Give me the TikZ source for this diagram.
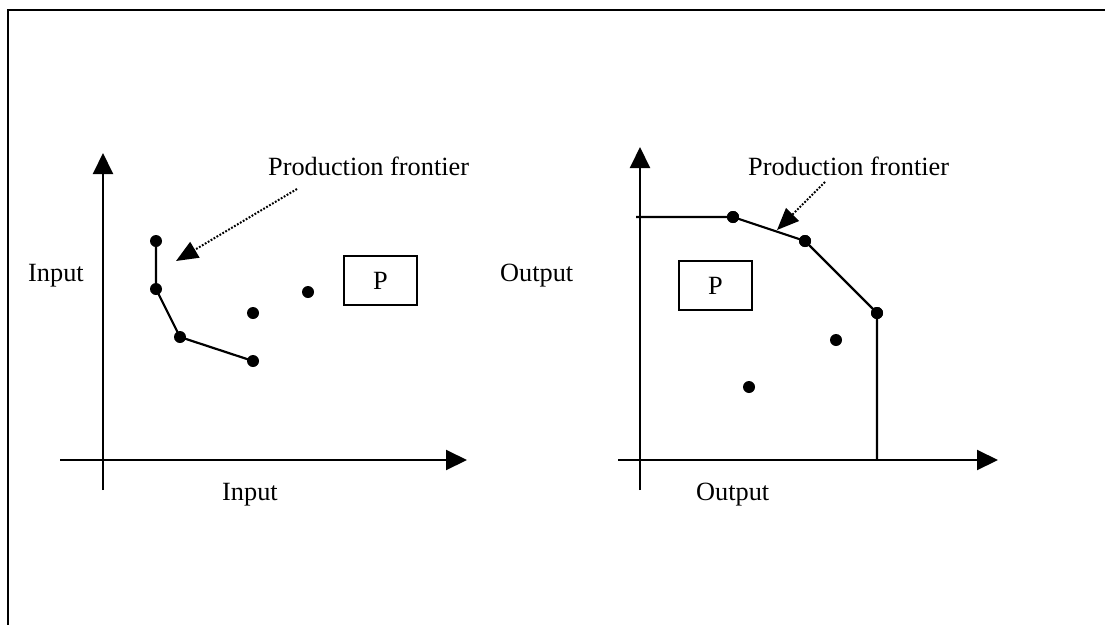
\documentclass[tikz,border=0pt]{standalone}
\usepackage{fontspec}
\setmainfont{Liberation Serif}
\usetikzlibrary{arrows.meta}
\begin{document}
\begin{tikzpicture}[x=1pt,y=-1pt,
  axis/.style={line width=2pt,-{Triangle[length=21pt,width=20pt]}},
  front/.style={line width=2.2pt},
  dot/.style={circle,fill=black,inner sep=0pt,minimum size=12pt},
  lbl/.style={inner sep=0pt,anchor=base west,font=\fontsize{26.3}{30}\selectfont},
  pointer/.style={line width=2pt,dash pattern=on 1.8pt off 1.6pt,-{Triangle[length=22pt,width=18pt]}},
  pbox/.style={draw,line width=2pt,minimum width=73pt,minimum height=49pt,inner sep=0pt}
]
\useasboundingbox (0,0) rectangle (1105,624);
% frame
\draw[line width=2pt] (7.5,640) -- (7.5,10) -- (1115,10);

% ---------- left chart ----------
\coordinate (ly0) at (103,490);
\coordinate (ly1) at (103,153);
\coordinate (lx0) at (60,460);
\coordinate (lx1) at (467,460);
\draw[axis] (ly0) -- (ly1);
\draw[axis] (lx0) -- (lx1);

\node[dot] (a1) at (156,241) {};
\node[dot] (a2) at (156,289) {};
\node[dot] (a3) at (180,337) {};
\node[dot] (a4) at (253,361) {};
\node[dot] (a5) at (253,313) {};
\node[dot] (a6) at (308,292) {};
\draw[front] (a1.center) -- (a2.center) -- (a3.center) -- (a4.center);

\node[lbl] (lpf) at (268,175) {Production frontier};
\coordinate (lps) at (297,189);
\coordinate (lpt) at (176,261);
\draw[pointer] (lps) -- (lpt);

\node[lbl] (lyl) at (28,281) {Input};
\node[lbl] (lxl) at (222,500) {Input};
\node[pbox] (lp) at (380.5,280.5) {};
\node[lbl,anchor=base] (lpl) at (380.5,289) {P};

% ---------- right chart ----------
\coordinate (ry0) at (640,490);
\coordinate (ry1) at (640,147);
\coordinate (rx0) at (618,460);
\coordinate (rx1) at (998,460);
\draw[axis] (ry0) -- (ry1);
\draw[axis] (rx0) -- (rx1);

\coordinate (r0) at (636,217);
\node[dot] (b1) at (733,217) {};
\node[dot] (b2) at (805,241) {};
\node[dot] (b3) at (877,313) {};
\coordinate (r4) at (877,460);
\node[dot] (b5) at (836,340) {};
\node[dot] (b6) at (749,387) {};
\draw[front] (r0) -- (b1.center) -- (b2.center) -- (b3.center) -- (r4);
\node[dot] at (b1) {};
\node[dot] at (b2) {};
\node[dot] at (b3) {};

\node[lbl] (rpf) at (748,175) {Production frontier};
\coordinate (rps) at (825,182);
\coordinate (rpt) at (777,230);
\draw[pointer] (rps) -- (rpt);

\node[lbl] (ryl) at (500,281) {Output};
\node[lbl] (rxl) at (696,500) {Output};
\node[pbox] (rp) at (715.5,285.5) {};
\node[lbl,anchor=base] (rpl) at (715.5,294) {P};
\end{tikzpicture}
\end{document}
